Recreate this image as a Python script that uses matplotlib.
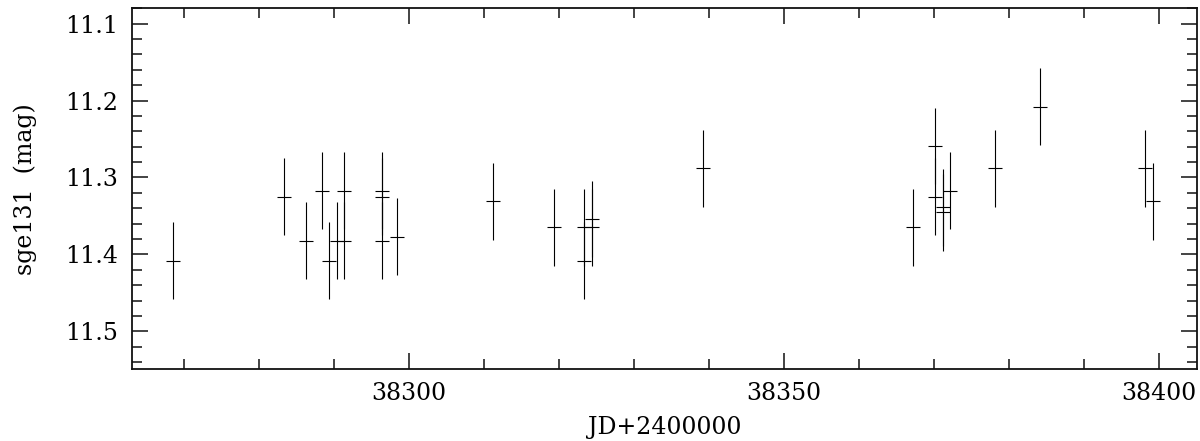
import matplotlib
matplotlib.use("Agg")
import matplotlib.pyplot as plt
from matplotlib.ticker import MultipleLocator

jd = [38268.5, 38283.4, 38286.3, 38288.4, 38289.4, 38290.4, 38291.3, 38291.3,
      38296.4, 38296.4, 38296.4, 38298.4, 38311.2, 38319.4, 38323.3, 38323.4,
      38324.4, 38324.4, 38339.2, 38367.2, 38370.2, 38370.2, 38371.2, 38371.2,
      38372.2, 38378.2, 38384.2, 38398.2, 38399.2]
mag = [11.408, 11.325, 11.382, 11.317, 11.408, 11.382, 11.382, 11.317,
       11.317, 11.325, 11.382, 11.377, 11.331, 11.365, 11.408, 11.365,
       11.354, 11.365, 11.288, 11.365, 11.259, 11.325, 11.339, 11.345,
       11.317, 11.288, 11.208, 11.288, 11.331]
mag_err = [0.05] * len(mag)

plt.rcParams['font.family'] = ['DejaVu Serif']

fig = plt.figure(figsize=(12, 4.41), dpi=100)
ax = fig.add_axes([132/1200, 1 - 369/441, (1196.5 - 132)/1200, (369 - 8.3)/441])

ax.errorbar(jd, mag, yerr=mag_err, fmt='_', color='black', ecolor='black',
            elinewidth=0.8, markersize=9.5, markeredgewidth=0.8, capsize=0)

ax.set_xlim(38263.07, 38405.0)
ax.set_ylim(11.549, 11.080)

ax.xaxis.set_major_locator(MultipleLocator(50))
ax.xaxis.set_minor_locator(MultipleLocator(10))
ax.yaxis.set_major_locator(MultipleLocator(0.1))
ax.yaxis.set_minor_locator(MultipleLocator(0.02))
ax.yaxis.set_major_formatter(plt.FuncFormatter(lambda v, p: f"{v:.1f}"))

ax.tick_params(which='both', direction='in', top=True, right=True, width=1.1,
               labelsize=17, color='#111111')
ax.tick_params(which='major', length=11.5)
ax.tick_params(which='minor', length=7.2)
ax.tick_params(axis='x', which='major', pad=9.5)
ax.tick_params(axis='y', which='major', pad=10)
for s in ax.spines.values():
    s.set_linewidth(1.3)
    s.set_color('#111111')

ax.set_xlabel('JD+2400000', fontsize=17, labelpad=8)
ax.set_ylabel('sge131  (mag)', fontsize=17, labelpad=20)

fig.savefig('out.png', dpi=100)
